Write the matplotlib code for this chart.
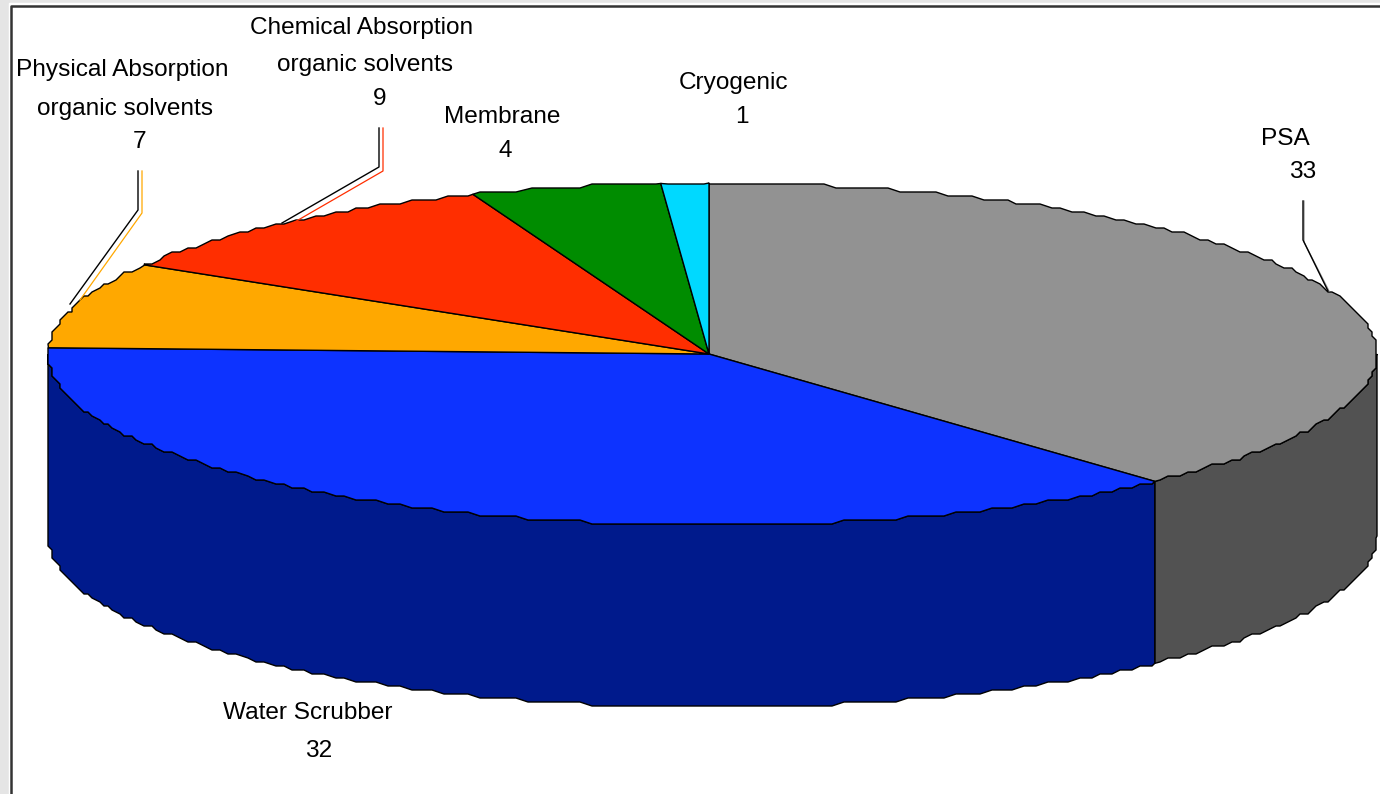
import matplotlib
matplotlib.use('Agg')
import matplotlib.pyplot as plt
import numpy as np

categories = ['PSA', 'Water Scrubber', 'Physical Absorption\norganic solvents',
              'Chemical Absorption\norganic solvents', 'Membrane', 'Cryogenic']
values = [33, 32, 7, 9, 4, 1]
top_colors = ['#929292', '#0d33ff', '#ffa800', '#ff2e00', '#008c00', '#00d9ff']
side_colors = ['#525252', '#001a8c', '#a86f00', '#a81e00', '#005c00', '#008fa8']

# pie geometry in pixels, the original is a little wider on the right
cx, cy = 709, 354
rx_right, rx_left = 668, 661
ry = 171
depth = 182
grid = 4
step = 1.1

plt.rcParams['font.family'] = ['Liberation Sans', 'DejaVu Sans']

fig = plt.figure(figsize=(13.8, 7.94), dpi=100, facecolor='#e5e5e5')
ax = fig.add_axes([0, 0, 1, 1])
ax.set_xlim(0, 1380)
ax.set_ylim(794, 0)
ax.axis('off')


def rim(a, b):
    # stepped rim like the low-res original, angles clockwise from the top
    inner = np.arange(np.ceil(a / step), np.floor(b / step) + 1) * step
    d = np.radians(np.r_[a, inner, b])
    s, c = np.sin(d), np.cos(d)
    x = np.round((cx + np.where(s > 0, rx_right, rx_left) * s) / grid) * grid
    y = np.round((cy - ry * c) / grid) * grid
    # slice corners stay exact
    for k in (0, -1):
        x[k] = cx + (rx_right if s[k] > 0 else rx_left) * s[k]
        y[k] = cy - ry * c[k]
    return x, y


# white plot area with dark frame
ax.fill([9, 1380, 1380, 9], [3, 3, 794, 794], color='white', zorder=0)
ax.plot([1380, 11, 11], [5.5, 5.5, 794], color='#333333', lw=1.8, zorder=1)

angles = np.concatenate([[0], np.cumsum(values)]) / sum(values) * 360

# side walls
for i in range(len(values)):
    a, b = max(angles[i], 90), min(angles[i + 1], 270)
    if a < b:
        x, y = rim(a, b)
        ax.fill(np.r_[x, x[::-1]], np.r_[y, y[::-1] + depth],
                facecolor=side_colors[i], edgecolor='black', lw=1, zorder=2)

# top slices
for i in range(len(values)):
    x, y = rim(angles[i], angles[i + 1])
    ax.fill(np.r_[cx, x], np.r_[cy, y], facecolor=top_colors[i],
            edgecolor='black', lw=1, zorder=3)

# leader lines, a black one and a thin one in the slice colour
leader_x = [[1303, 1303, 1328], [138, 138, 70], [379, 379, 282]]
leader_y = [[201, 240, 291], [171, 210, 304], [128, 167, 223]]
shadow_x = [[1304, 1304, 1329], [142, 142, 80], [383, 383, 293]]
shadow_y = [[201, 242, 291], [171, 213, 300], [128, 171, 223]]
shadow_colors = ['#929292', '#ffa800', '#ff2e00']
for lx, ly, sx, sy, c in zip(leader_x, leader_y, shadow_x, shadow_y, shadow_colors):
    ax.plot(sx, sy, color=c, lw=0.9, zorder=4)
    ax.plot(lx, ly, color='black', lw=1, zorder=4)

# labels, each line placed on its own
label_x = [1285, 308, 122, 362, 502, 733]
label_y = [139, 713, 70, 28, 117, 83]
second_x = [None, None, 125, 365, None, None]
second_y = [None, None, 109, 65, None, None]
value_x = [1303, 319, 140, 380, 505, 742]
value_y = [172, 751, 142, 99, 151, 117]
for i, name in enumerate(categories):
    parts = name.split('\n')
    ax.text(label_x[i], label_y[i], parts[0], ha='center', va='center', fontsize=17.6)
    if len(parts) > 1:
        ax.text(second_x[i], second_y[i], parts[1], ha='center', va='center', fontsize=17.6)
    ax.text(value_x[i], value_y[i], str(values[i]), ha='center', va='center', fontsize=17.6)

fig.savefig('out.png', dpi=100, facecolor=fig.get_facecolor())
